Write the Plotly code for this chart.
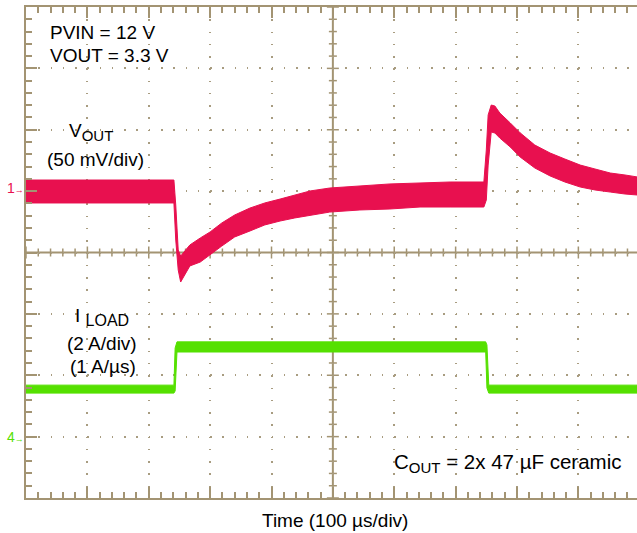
import plotly.graph_objects as go

# ---------------- data ----------------
# time in µs (100 µs/div); VOUT as deviation in mV from channel-1 marker; ILOAD in A from channel-4 marker
vout_time_us = [0, 120, 241, 244, 248, 252, 267, 284, 300, 319, 340, 365, 389, 414, 438, 463,
                495, 544, 593, 642, 691, 746, 750, 753, 758, 764, 772, 789, 805, 829, 854, 878,
                903, 927, 952, 976, 996]
vout_upper_mv = [6.5, 6.5, 6.5, -13.9, -50.5, -55.4, -46.4, -40.7, -35.8, -28.5, -22.0, -16.3,
                 -12.2, -9.0, -5.7, -2.4, 0.0, 1.6, 3.3, 4.1, 4.9, 4.9, 31.0, 59.5, 67.6, 66.8,
                 61.1, 53.0, 45.0, 35.0, 28.5, 23.6, 18.7, 15.5, 12.2, 10.6, 9.0]
vout_lower_mv = [-12.2, -12.2, -12.2, -42.4, -66.8, -76.6, -63.5, -60.3, -54.6, -47.3, -39.9,
                 -35.0, -30.1, -26.9, -24.4, -22.0, -19.6, -17.9, -17.1, -15.5, -15.5, -15.5,
                 -9.8, 18.7, 45.6, 44.8, 40.7, 33.4, 25.3, 16.3, 9.8, 4.9, 0.8, -1.6, -3.3,
                 -4.9, -5.7]

iload_time_us = [0, 241, 243, 246, 749, 751, 754, 996]
iload_upper_a = [1.69, 1.69, 2.90, 3.10, 3.10, 3.00, 1.69, 1.69]
iload_lower_a = [1.43, 1.43, 1.50, 2.77, 2.77, 1.60, 1.43, 1.43]

# scope screen scales
time_per_div_us = 100
vout_mv_per_div = 50
iload_a_per_div = 2
n_hdiv, n_vdiv, n_sub = 10, 8, 5

# ---------------- style ----------------
W, H = 637, 533
ML, MR, MT, MB = 26, 0, 7, 35
PX_DIV = (H - MT - MB) / float(n_vdiv)
X_RANGE = [0, (W - ML - MR) / PX_DIV * time_per_div_us]
VOUT_REF_DIV = (498 - 188) / PX_DIV          # channel 1 marker height (div from bottom)
ILOAD_REF_DIV = (498 - 437) / PX_DIV         # channel 4 marker height
Y2_RANGE = [-VOUT_REF_DIV * vout_mv_per_div, (n_vdiv - VOUT_REF_DIV) * vout_mv_per_div]
Y3_RANGE = [-ILOAD_REF_DIV * iload_a_per_div, (n_vdiv - ILOAD_REF_DIV) * iload_a_per_div]

RED = '#e8104f'
GREEN = '#55e000'
AXC = '#a39473'
GRIDC = '#a89c80'
FONT = 'Arial, Liberation Sans, sans-serif'
dot_gap = PX_DIV / n_sub - 1.5
GRIDDASH = f'1.5px,{dot_gap:.3f}px'

fig = go.Figure()

fig.add_trace(go.Scatter(
    x=vout_time_us + vout_time_us[::-1],
    y=vout_upper_mv + vout_lower_mv[::-1],
    fill='toself', fillcolor=RED, mode='lines',
    line=dict(color=RED, width=1), xaxis='x', yaxis='y2', hoverinfo='skip', showlegend=False))

fig.add_trace(go.Scatter(
    x=iload_time_us + iload_time_us[::-1],
    y=iload_upper_a + iload_lower_a[::-1],
    fill='toself', fillcolor=GREEN, mode='lines',
    line=dict(color=GREEN, width=1), xaxis='x', yaxis='y3', hoverinfo='skip', showlegend=False))

common_x = dict(range=X_RANGE, showticklabels=False, zeroline=False, fixedrange=True)
common_y = dict(range=[0, n_vdiv], showticklabels=False, zeroline=False, fixedrange=True)

fig.update_layout(
    width=W, height=H, margin=dict(l=ML, r=MR, t=MT, b=MB),
    paper_bgcolor='white', plot_bgcolor='white', showlegend=False,
    xaxis=dict(**common_x, showgrid=True, gridcolor=GRIDC, gridwidth=1.5, griddash=GRIDDASH,
               dtick=time_per_div_us, tick0=0,
               showline=True, linecolor=AXC, linewidth=2, mirror='ticks',
               ticks='inside', ticklen=11, tickcolor=AXC, tickwidth=1.5,
               minor=dict(ticks='inside', ticklen=6, dtick=time_per_div_us / n_sub,
                          tickcolor=AXC, tickwidth=1.5, showgrid=False)),
    yaxis=dict(**common_y, showgrid=True, gridcolor=GRIDC, gridwidth=1.5, griddash=GRIDDASH,
               dtick=1, tick0=0,
               showline=True, linecolor=AXC, linewidth=2, mirror=False,
               ticks='inside', ticklen=11, tickcolor=AXC, tickwidth=1.5,
               minor=dict(ticks='inside', ticklen=6, dtick=1 / n_sub, tickcolor=AXC,
                          tickwidth=1.5, showgrid=False)),
    yaxis2=dict(range=Y2_RANGE, overlaying='y', anchor='x', visible=False, fixedrange=True),
    yaxis3=dict(range=Y3_RANGE, overlaying='y', anchor='x', visible=False, fixedrange=True),
)

# centre cross-hair of the graticule (line + ticks both sides), in axis coordinates
xc = n_hdiv / 2 * time_per_div_us
yc = n_vdiv / 2
shapes = [
    dict(type='line', xref='x', yref='paper', x0=xc, x1=xc, y0=0, y1=1,
         line=dict(color=AXC, width=2), layer='below'),
    dict(type='line', xref='paper', yref='y', x0=0, x1=1, y0=yc, y1=yc,
         line=dict(color=AXC, width=2), layer='below'),
]
step_x = time_per_div_us / n_sub
k = 0
while k * step_x <= X_RANGE[1]:
    half = 6 if k % n_sub == 0 else 4
    shapes.append(dict(type='line', xref='x', x0=k * step_x, x1=k * step_x,
                       yref='y', ysizemode='pixel', yanchor=yc, y0=-half, y1=half,
                       line=dict(color=AXC, width=1.5), layer='below'))
    k += 1
for k in range(n_vdiv * n_sub + 1):
    v = k / n_sub
    half = 6 if k % n_sub == 0 else 4
    shapes.append(dict(type='line', yref='y', y0=v, y1=v,
                       xref='x', xsizemode='pixel', xanchor=xc, x0=-half, x1=half,
                       line=dict(color=AXC, width=1.5), layer='below'))
fig.update_layout(shapes=shapes)

ann = []
def txt(t, x, y, size=19, color='black', xanchor='left', yanchor='middle', xref='x', yref='y', **kw):
    ann.append(dict(text=t, x=x, y=y, xref=xref, yref=yref, xanchor=xanchor, yanchor=yanchor,
                    showarrow=False, font=dict(family=FONT, size=size, color=color), **kw))

def sub(s, size=15):
    return f'<sub><span style="font-size:{size}px">{s}</span></sub>'

txt('PVIN = 12 V', 36, 7.58)
txt('VOUT = 3.3 V', 36, 7.21)
txt('V' + sub('OUT'), 106, 5.97, xanchor='center')
txt('(50 mV/div)', 114, 5.51, xanchor='center')
txt('I ' + sub('LOAD', 16), 124, 2.95, xanchor='center')
txt('(2 A/div)', 124, 2.51, xanchor='center')
txt('(1 A/µs)', 125, 2.15, xanchor='center')
txt('C' + sub('OUT', 15) + ' = 2x 47 µF ceramic', 596, 0.57, size=20.5)
txt('Time (100 µs/div)', (335 - ML) / (W - ML - MR), -22 / (H - MT - MB), xref='paper',
    yref='paper', xanchor='center')
# channel reference markers
txt('1<span style="font-size:9px">→</span>', 0, 0, size=14, color=RED, xanchor='right',
    xref='paper', yref='y2', xshift=0)
txt('4<span style="font-size:9px">→</span>', 0, 0, size=14, color=GREEN, xanchor='right',
    xref='paper', yref='y3', xshift=0)

fig.update_layout(annotations=ann)
fig.write_html('out.html')
